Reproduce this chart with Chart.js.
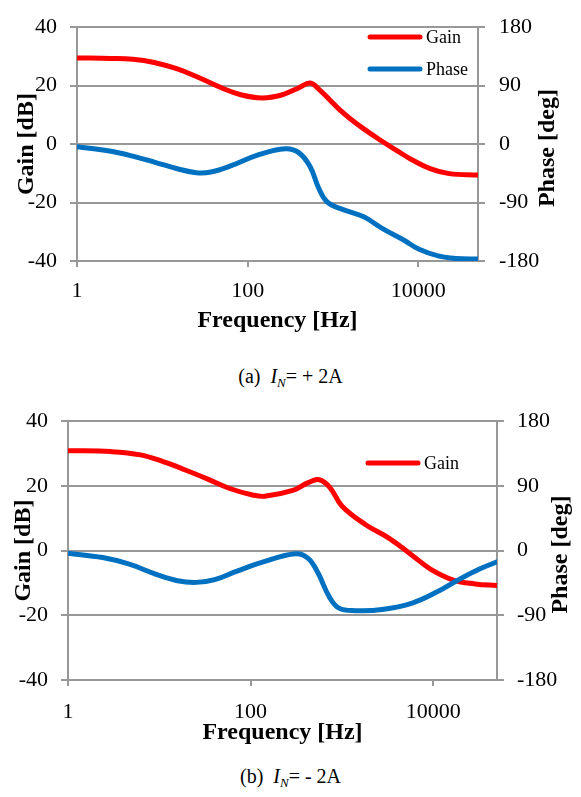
<!DOCTYPE html>
<html>
<head>
<meta charset="utf-8">
<script src="https://cdn.jsdelivr.net/npm/chart.js@4.4.1/dist/chart.umd.min.js"></script>
<style>
  body { margin:0; width:581px; height:797px; background:#fff; position:relative; overflow:hidden; }
  .box { position:absolute; left:0; width:581px; }
  .cap { position:absolute; left:0; width:581px; text-align:center; font:20px 'Liberation Serif', serif; color:#000; line-height:22px; }
  .cap sub { font-size:13px; vertical-align:-4px; }
</style>
</head>
<body>
<div class="box" style="top:0;height:345px"><canvas id="chartA"></canvas></div>
<div class="cap" style="top:365px">(a)&nbsp; <i>I<sub>N</sub></i>= + 2A</div>
<div class="box" style="top:395px;height:360px"><canvas id="chartB"></canvas></div>
<div class="cap" style="top:765px">(b)&nbsp; <i>I<sub>N</sub></i>= - 2A</div>
<script>
// tick labels
var xTicks = [1, 100, 10000];
var gainTicks = [-40, -20, 0, 20, 40];
var phaseTicks = [-180, -90, 0, 90, 180];

// (a) IN = +2A
var freqGainA = [1, 2.5, 4.5, 8, 15, 27, 50, 83, 148, 250, 400, 540, 700, 925, 1210, 1590, 2270, 3560, 5600, 8000, 14000, 23000, 50000];
var gainA     = [29.5, 29.3, 29.0, 27.9, 25.7, 22.7, 19.2, 16.9, 15.8, 16.8, 19.3, 20.9, 18.5, 15.0, 11.6, 8.7, 5.3, 1.4, -2.2, -5.0, -8.5, -10.1, -10.6];
var freqPhaseA = [1, 2.5, 4.5, 8.2, 15, 25, 37, 62, 128, 275, 400, 540, 680, 850, 1200, 2290, 3900, 6800, 10200, 17000, 27500, 50000];
var phaseA     = [-3.9, -11, -18.5, -28, -38, -44, -43, -34, -17.5, -7.3, -13.5, -35, -68, -89, -99, -112, -131, -148, -162, -172, -176, -177];

// (b) IN = -2A
var freqGainB = [1, 2.95, 6.2, 11, 19, 34, 59, 105, 143, 290, 427, 565, 740, 1000, 1820, 3300, 5900, 9330, 16600, 28800, 50000];
var gainB     = [30.9, 30.6, 29.6, 27.5, 25.0, 22.1, 19.2, 17.2, 16.8, 18.6, 21.0, 21.9, 19.5, 13.8, 8.0, 3.8, -1.5, -5.7, -9.1, -10.3, -10.8];
var freqPhaseB = [1, 2.4, 4.7, 9.1, 15.8, 25.5, 40.5, 71, 135, 310, 427, 550, 725, 930, 1410, 2750, 5900, 11200, 18100, 31700, 50000];
var phaseB     = [-3.7, -9.7, -18.9, -32.7, -41.9, -44.2, -40.5, -28.5, -16, -4.3, -10.8, -31.6, -64, -80, -83.5, -82, -73, -57, -42, -26, -15.7];

var GRAY = '#989898';
var serif = "'Liberation Serif', 'Times New Roman', serif";

function pts(xs, ys) {
  var out = [];
  for (var i = 0; i < xs.length; i++) out.push({x: xs[i], y: ys[i]});
  return out;
}

// legend inside plot + right axis title (reads bottom-to-top)
var overlay = {
  id: 'overlay',
  afterDraw: function(chart, args, o) {
    var ctx = chart.ctx;
    ctx.save();
    for (var i = 0; i < o.items.length; i++) {
      var ds = chart.data.datasets.find(function(d){ return d.label === o.items[i]; });
      var y = o.y + i * 32;
      ctx.strokeStyle = ds.borderColor;
      ctx.lineWidth = 5;
      ctx.lineCap = 'round';
      ctx.beginPath(); ctx.moveTo(o.x, y); ctx.lineTo(o.x + 50, y); ctx.stroke();
      ctx.fillStyle = '#000';
      ctx.font = '18px ' + serif;
      ctx.textBaseline = 'middle';
      ctx.textAlign = 'left';
      ctx.fillText(ds.label, o.x + 56, y + 1);
    }
    var a = chart.chartArea;
    ctx.translate(o.titleX, (a.top + a.bottom) / 2 + 4);
    ctx.rotate(-Math.PI / 2);
    ctx.font = 'bold 24px ' + serif;
    ctx.textAlign = 'center';
    ctx.textBaseline = 'middle';
    ctx.fillText('Phase [deg]', 0, 0);
    ctx.restore();
  }
};

function makeChart(id, fg, g, fp, p, cfg) {
  return new Chart(document.getElementById(id), {
    type: 'line',
    data: {
      datasets: [
        { label: 'Gain', data: pts(fg, g), yAxisID: 'y', borderColor: '#ff0000', order: 2 },
        { label: 'Phase', data: pts(fp, p), yAxisID: 'y2', borderColor: '#0070c0', order: 1 }
      ]
    },
    options: {
      responsive: true,
      maintainAspectRatio: false,
      animation: false,
      layout: { padding: { top: cfg.top, left: 0, right: 0, bottom: 0 } },
      elements: {
        point: { radius: 0 },
        line: { borderWidth: 5, tension: 0.4, borderCapStyle: 'round', borderJoinStyle: 'round' }
      },
      plugins: {
        legend: { display: false },
        tooltip: { enabled: false },
        overlay: { items: cfg.legend, x: cfg.legX, y: cfg.legY, titleX: cfg.rTitleX }
      },
      scales: {
        x: {
          type: 'logarithmic', min: 1, max: 50000,
          afterBuildTicks: function(s){ s.ticks = xTicks.map(function(v){ return {value: v}; }); },
          afterFit: function(s){ s.height = cfg.xH; },
          ticks: { callback: function(v){ return String(v); }, font: { family: serif, size: 22 }, color: '#000', padding: cfg.xPad, maxRotation: 0, autoSkip: false },
          grid: { drawOnChartArea: false, drawTicks: true, tickLength: 6, color: GRAY, lineWidth: 2 },
          border: { display: true, color: GRAY, width: 2 },
          title: { display: true, text: 'Frequency [Hz]', color: '#000', font: { family: serif, size: 24, weight: 'bold' }, padding: { top: 0, bottom: cfg.xTitlePad } }
        },
        y: {
          position: 'left', min: -40, max: 40,
          afterBuildTicks: function(s){ s.ticks = gainTicks.map(function(v){ return {value: v}; }); },
          afterFit: function(s){ s.width = cfg.left; },
          ticks: { font: { family: serif, size: 22 }, color: '#000', padding: 13 },
          grid: { color: GRAY, lineWidth: 2, tickLength: 7 },
          border: { display: true, color: GRAY, width: 2 },
          title: { display: true, text: 'Gain [dB]', color: '#000', font: { family: serif, size: 24, weight: 'bold' }, padding: { top: cfg.lTitlePad, bottom: 0 } }
        },
        y2: {
          position: 'right', min: -180, max: 180,
          afterBuildTicks: function(s){ s.ticks = phaseTicks.map(function(v){ return {value: v}; }); },
          afterFit: function(s){ s.width = 581 - cfg.right; },
          ticks: { font: { family: serif, size: 22 }, color: '#000', padding: cfg.rPad },
          grid: { drawOnChartArea: false, color: GRAY, lineWidth: 2, tickLength: 7 },
          border: { display: true, color: GRAY, width: 2 }
        }
      }
    },
    plugins: [overlay]
  });
}

makeChart('chartA', freqGainA, gainA, freqPhaseA, phaseA, {
  top: 17, left: 77, right: 478, xH: 84, xPad: 11, xTitlePad: 10, lTitlePad: 12, rPad: 14,
  legend: ['Gain', 'Phase'], legX: 370, legY: 37, rTitleX: 548
});
makeChart('chartB', freqGainB, gainB, freqPhaseB, phaseB, {
  top: 26, left: 68, right: 497, xH: 75, xPad: 13, xTitlePad: 8, lTitlePad: 9, rPad: 13,
  legend: ['Gain'], legX: 368, legY: 68, rTitleX: 561
});
</script>
</body>
</html>
